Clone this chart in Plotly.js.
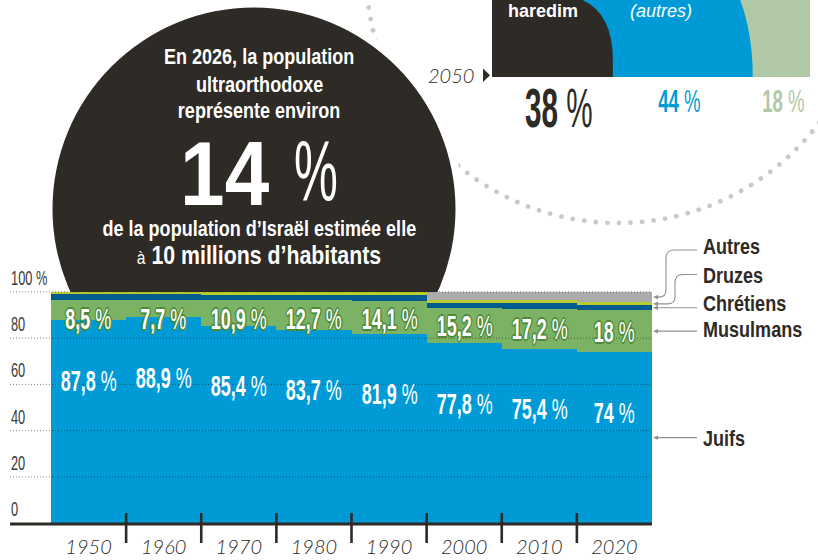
<!DOCTYPE html>
<html><head><meta charset="utf-8">
<script src="https://cdn.plot.ly/plotly-3.0.1.min.js"></script>
<style>html,body{margin:0;padding:0;background:#fff;}#chart{width:818px;height:560px;}</style>
</head><body><div id="chart"></div>
<script>
// ---------- DATA ----------
const years = ['1950','1960','1970','1980','1990','2000','2010','2020'];
const juifs     = [87.8, 88.9, 85.4, 83.7, 81.9, 77.8, 75.4, 74];
const musulmans = [8.5, 7.7, 10.9, 12.7, 14.1, 15.2, 17.2, 18];
const chretiens = [2.9, 2.3, 2.5, 2.3, 2.6, 2.0, 2.4, 2.2];
const druzes    = [0.8, 1.1, 1.2, 1.3, 1.4, 1.3, 1.4, 1.2];
const autres    = [0, 0, 0, 0, 0, 3.7, 3.6, 4.6];
const groupNames = ['Juifs','Musulmans','Chrétiens','Druzes','Autres'];
const yTickVals = [0, 20, 40, 60, 80, 100];
const yTickText = ['0', '20', '40', '60', '80', '100 %'];
const proj2050Names = ['haredim', '(autres)', ''];
const proj2050 = [38, 44, 18];

// ---------- STYLE ----------
const groupColors = ['#009bd6', '#7bb263', '#005b8f', '#b9cd2c', '#acacac'];
const projColors = ['#2e2a25', '#009bd6', '#b1c9a7'];
const DARK = '#2e2a25';
const COND = "'Liberation Sans', Arial, sans-serif";   // horizontally condensed after render
const SANS = "'Liberation Sans', Arial, sans-serif";
const W = 818, H = 560;
const PX = x => x / W, PY = y => 1 - y / H;
const xL = 51, xR = 652, yB = 523.3, yT = 291.8;
const ypx = v => yB - (yB - yT) * v / 100;
const pt = (x, y) => PX(x) + ' ' + PY(y);

const series = [juifs, musulmans, chretiens, druzes, autres];
const data = series.map((s, k) => ({
  type: 'bar', x: years, y: s, name: groupNames[k],
  marker: {color: groupColors[k], line: {width: 0}}, hoverinfo: 'skip'
}));
data.push({type: 'scatter', x: [0, 100], y: [0, 1], xaxis: 'x2', yaxis: 'y2', mode: 'none', hoverinfo: 'skip', showlegend: false});

const shapes = [];
const annotations = [];
const condense = {};
function ann(a, f, origin) {
  annotations.push(Object.assign({showarrow: false, xanchor: 'center', yanchor: 'middle'}, a));
  if (f) condense[annotations.length - 1] = [f, origin || 'center'];
}

// background circles
function circ(cx, cy, r, extra) {
  return Object.assign({type: 'circle', xref: 'paper', yref: 'paper', layer: 'below',
    x0: PX(cx - r), x1: PX(cx + r), y0: PY(cy + r), y1: PY(cy - r)}, extra);
}
shapes.push(circ(618, -29, 252, {line: {color: '#c9c9c9', width: 4.8, dash: 'dot'}, fillcolor: 'rgba(0,0,0,0)'}));
shapes.push(circ(254, 209, 209, {line: {width: 0}, fillcolor: '#ffffff'}));
shapes.push(circ(254, 209, 201.5, {line: {width: 0}, fillcolor: DARK}));

// 2050 projection (x2 axis scale 0..100)
const cum = []; proj2050.reduce((a, v, i) => (cum[i] = a + v), 0);
const pTop = PY(-6), pBot = PY(77);
shapes.push({type: 'rect', xref: 'x2', yref: 'paper', layer: 'above', x0: 0, x1: cum[2], y0: pBot, y1: pTop, fillcolor: projColors[2], line: {width: 0}});
shapes.push({type: 'path', xref: 'x2', yref: 'paper', layer: 'above', fillcolor: projColors[1], line: {width: 0},
  path: `M 0 ${pTop} L ${cum[1] - 4.7} ${pTop} Q ${cum[1]} ${PY(30)} ${cum[1]} ${pBot} L 0 ${pBot} Z`});
shapes.push({type: 'path', xref: 'x2', yref: 'paper', layer: 'above', fillcolor: projColors[0], line: {width: 0},
  path: `M 0 ${pTop} L ${cum[0] - 19.5} ${pTop} Q ${cum[0]} ${pTop} ${cum[0]} ${PY(60)} L ${cum[0]} ${pBot} L 0 ${pBot} Z`});
// small triangle
shapes.push({type: 'path', xref: 'paper', yref: 'paper', layer: 'above', fillcolor: DARK, line: {width: 0},
  path: `M ${pt(483, 68.5)} L ${pt(490, 75.3)} L ${pt(483, 82)} Z`});

// gridlines (above bars)
yTickVals.filter(v => v > 0).forEach(v => shapes.push({type: 'line', xref: 'paper', yref: 'paper', layer: 'above',
  x0: PX(10), x1: PX(xR), y0: PY(ypx(v)), y1: PY(ypx(v)), line: {color: 'rgba(25,25,25,0.55)', width: 1, dash: '1px,2px'}}));
// axis line and ticks
shapes.push({type: 'line', xref: 'paper', yref: 'paper', layer: 'above', x0: PX(10), x1: PX(xR), y0: PY(yB + 0.8), y1: PY(yB + 0.8), line: {color: DARK, width: 3}});
for (let i = 0; i < years.length - 1; i++) shapes.push({type: 'line', xref: 'x', yref: 'paper', layer: 'above',
  x0: i + 0.5, x1: i + 0.5, y0: PY(513), y1: PY(543), line: {color: DARK, width: 2.6}});

// y tick labels
yTickVals.forEach((v, i) => ann({xref: 'paper', yref: 'y', x: PX(9), y: v, xanchor: 'left', yanchor: 'bottom', yshift: 1,
  text: yTickText[i], font: {family: COND, size: 20, color: '#3a3a3a'}}, 0.64, 'left center'));

// value labels
const fmt = v => String(v).replace('.', ',');
const outline = c => ['-1px -1px', '1px -1px', '-1px 1px', '1px 1px', '0 -1.7px', '0 1.7px', '-1.7px 0', '1.7px 0'].map(o => o + ' 0 ' + c).join(', ');
years.forEach((yr, i) => {
  ann({xref: 'x', yref: 'y', x: i, y: juifs[i] - 26, text: `<b>${fmt(juifs[i])}</b> %`,
    font: {family: COND, size: 30, color: '#ffffff'}}, 0.6);
  ann({xref: 'x', yref: 'y', x: i, y: Math.min(juifs[i] + musulmans[i] / 2, 88.5), text: `<b>${fmt(musulmans[i])}</b> %`,
    font: {family: COND, size: 30, color: '#ffffff', shadow: outline('#4f8a3b')}}, 0.6);
});

// leader lines + labels
const last = years.length - 1;
const stackTop = series.reduce((a, s) => a + s[last], 0);
const ends = {
  Autres: stackTop - autres[last] / 2,
  Druzes: stackTop - autres[last] - druzes[last] / 2,
  'Chrétiens': juifs[last] + musulmans[last] + chretiens[last] / 2,
  Musulmans: juifs[last] + musulmans[last] / 2,
  Juifs: juifs[last] / 2
};
const LC = '#8f8f8f';
function arrowHead(y) {
  shapes.push({type: 'path', xref: 'paper', yref: 'paper', layer: 'above', fillcolor: LC, line: {width: 0},
    path: `M ${pt(653, y)} L ${pt(658, y - 2.2)} L ${pt(658, y + 2.2)} Z`});
}
function curved(yH, xV, yEnd) {
  shapes.push({type: 'path', xref: 'paper', yref: 'paper', layer: 'above', line: {color: LC, width: 1.1},
    path: `M ${pt(697, yH)} L ${pt(xV + 8, yH)} Q ${pt(xV, yH)} ${pt(xV, yH + 8)} L ${pt(xV, yEnd - 7)} Q ${pt(xV, yEnd)} ${pt(xV - 7, yEnd)} L ${pt(655, yEnd)}`});
  arrowHead(yEnd);
}
function straight(y) {
  shapes.push({type: 'line', xref: 'paper', yref: 'paper', layer: 'above', x0: PX(655), x1: PX(697), y0: PY(y), y1: PY(y), line: {color: LC, width: 1.1}});
  arrowHead(y);
}
curved(250, 666, ypx(ends.Autres));
curved(274.5, 675, ypx(ends.Druzes));
straight(ypx(ends['Chrétiens']));
straight(ypx(ends.Musulmans));
straight(ypx(ends.Juifs));
const legendY = {Autres: 246, Druzes: 275, 'Chrétiens': ypx(ends['Chrétiens']) - 4, Musulmans: ypx(ends.Musulmans) - 2, Juifs: ypx(ends.Juifs) + 1};
groupNames.forEach(n => ann({xref: 'paper', yref: 'paper', x: PX(701), y: PY(legendY[n]), xanchor: 'left',
  text: `<b>${n}</b>`, font: {family: COND, size: 22, color: DARK}}, 0.82, 'left center'));

// circle texts
const cx = PX(259);
const ctext = (t, y, size) => ann({xref: 'paper', yref: 'paper', x: cx, y: PY(y), text: t,
  font: {family: COND, size: size, color: '#ffffff'}}, 0.82);
ctext('<b>En 2026, la population</b>', 57, 22);
ctext('<b>ultraorthodoxe</b>', 84, 22);
ctext('<b>représente environ</b>', 110.5, 22);
ctext('<b>de la population d’Israël estimée elle</b>', 228, 22);
ctext('<span style="font-size:19px">à</span> <b>10 millions d’habitants</b>', 255, 26);
ann({xref: 'paper', yref: 'paper', x: PX(225), y: PY(172.5), height: 72, text: '<b>14</b>', font: {family: COND, size: 91, color: '#ffffff'}}, 0.88);
ann({xref: 'paper', yref: 'paper', x: PX(315.5), y: PY(171), height: 66, text: '%', font: {family: COND, size: 85, color: '#ffffff'}}, 0.58);

// 2050 labels
ann({xref: 'paper', yref: 'paper', x: PX(476), y: PY(75.5), xanchor: 'right', text: '2050',
  font: {family: 'Lato, sans-serif', size: 20, style: 'italic', weight: 300, color: DARK}});
ann({xref: 'x2', yref: 'paper', x: 0, xshift: 14, y: PY(11), xanchor: 'left', text: `<b>${proj2050Names[0]}</b>`,
  font: {family: SANS, size: 18, color: '#ffffff'}});
ann({xref: 'x2', yref: 'paper', x: cum[0], xshift: 15, y: PY(11), xanchor: 'left', text: proj2050Names[1],
  font: {family: SANS, size: 18, style: 'italic', color: '#ffffff'}});
const projY = [108, 101, 101], projSize = [56, 31, 31], projF = [0.53, 0.6, 0.6], projShift = [7, -3, 2];
proj2050.forEach((v, i) => ann({xref: 'x2', yref: 'paper', x: cum[i] - v / 2, xshift: projShift[i], y: PY(projY[i]),
  text: `<b>${v}</b> %`, font: {family: COND, size: projSize[i], color: projColors[i]}}, projF[i]));

const layout = {
  width: W, height: H, margin: {l: 0, r: 0, t: 0, b: 0}, paper_bgcolor: '#ffffff', plot_bgcolor: 'rgba(0,0,0,0)',
  barmode: 'stack', bargap: 0, showlegend: false,
  xaxis: {domain: [PX(xL), PX(xR)], type: 'category', range: [-0.5, years.length - 0.5], showgrid: false, zeroline: false,
    showline: false, ticks: '', ticklabelstandoff: 10,
    tickfont: {family: 'Lato, sans-serif', size: 20, style: 'italic', weight: 300, color: DARK}},
  yaxis: {domain: [PY(yB), PY(yT)], range: [0, 100], showgrid: false, zeroline: false, showline: false,
    showticklabels: false, ticks: ''},
  xaxis2: {domain: [PX(492), PX(810)], range: [0, 100], visible: false, anchor: 'y2'},
  yaxis2: {domain: [PY(77), 1], range: [0, 1], visible: false, anchor: 'x2'},
  shapes: shapes, annotations: annotations
};

const gd = document.getElementById('chart');
Plotly.newPlot(gd, data, layout, {staticPlot: true, displayModeBar: false}).then(() => {
  Object.keys(condense).forEach(i => {
    const t = gd.querySelector(`g.annotation[data-index="${i}"] text.annotation-text`);
    if (t) {
      t.style.transformBox = 'fill-box';
      t.style.transformOrigin = condense[i][1];
      t.style.transform = `scaleX(${condense[i][0]})`;
    }
  });
  Array.from(gd.querySelectorAll('.shapelayer path')).forEach(p => {
    if (p.style.strokeWidth === '4.8px') { p.style.strokeLinecap = 'round'; p.style.strokeDasharray = '0.01px 11.6px'; }
  });
});
</script>
</body></html>
